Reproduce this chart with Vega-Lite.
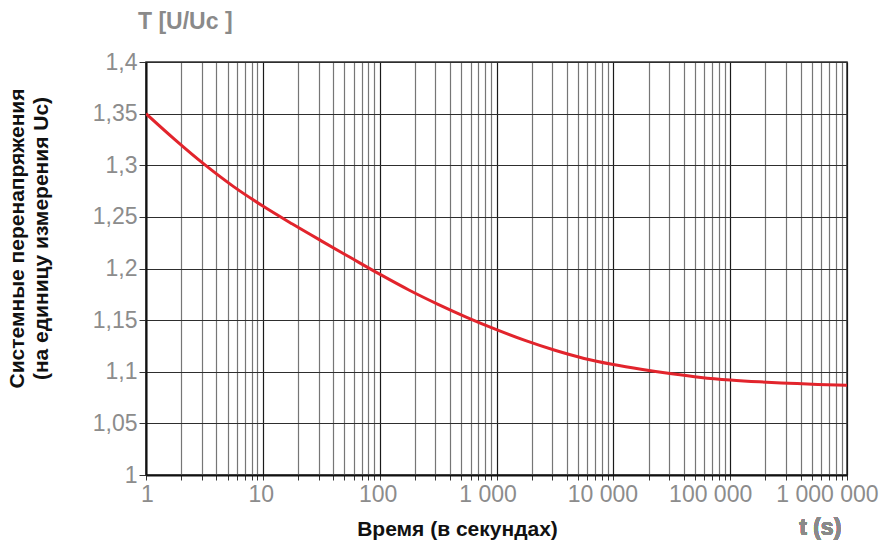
{
  "$schema": "https://vega.github.io/schema/vega-lite/v6.json",
  "width": 701,
  "height": 413,
  "autosize": "none",
  "padding": {"left": 146, "top": 62, "right": 36, "bottom": 66},
  "background": "white",
  "config": {
    "view": {"stroke": "#333333", "strokeWidth": 1.5},
    "font": "Liberation Sans"
  },
  "title": {
    "text": "T [U/Uc ]",
    "anchor": "start",
    "frame": "group",
    "orient": "top",
    "baseline": "alphabetic",
    "offset": 29,
    "dx": -8,
    "dy": 30,
    "font": "Liberation Sans",
    "fontSize": 23,
    "fontWeight": "bold",
    "color": "#8a8a8a"
  },
  "data": {
    "values": [
      {"t": 1, "v": 1.35},
      {"t": 1.778, "v": 1.3246},
      {"t": 3.162, "v": 1.3008},
      {"t": 5.623, "v": 1.2793},
      {"t": 10, "v": 1.2605},
      {"t": 17.78, "v": 1.2433},
      {"t": 31.62, "v": 1.2268},
      {"t": 56.23, "v": 1.2106},
      {"t": 100, "v": 1.1945},
      {"t": 177.8, "v": 1.1792},
      {"t": 316.2, "v": 1.1653},
      {"t": 562.3, "v": 1.1525},
      {"t": 1000, "v": 1.1408},
      {"t": 1778, "v": 1.1301},
      {"t": 3162, "v": 1.1208},
      {"t": 5623, "v": 1.1129},
      {"t": 10000, "v": 1.107},
      {"t": 17783, "v": 1.1022},
      {"t": 31623, "v": 1.098},
      {"t": 56234, "v": 1.0945},
      {"t": 100000, "v": 1.092},
      {"t": 177828, "v": 1.0902},
      {"t": 316228, "v": 1.0889},
      {"t": 562341, "v": 1.0877},
      {"t": 1000000, "v": 1.0869}
    ]
  },
  "layer": [
    {
      "mark": {"type": "line", "color": "#e2242c", "strokeWidth": 3, "interpolate": "monotone", "clip": true},
      "encoding": {
        "x": {
          "field": "t",
          "type": "quantitative",
          "scale": {"type": "log", "domain": [1, 1000000], "nice": false},
          "axis": {
            "title": "Время (в секундах)",
            "titleFont": "Liberation Sans",
            "titleFontSize": 21,
            "titleFontWeight": "bold",
            "titleColor": "#111111",
            "titleX": 311,
            "titleY": 60,
            "titleAnchor": null,
            "titleAlign": "center",
            "titleBaseline": "alphabetic",
            "values": [1,2,3,4,5,6,7,8,9,10,20,30,40,50,60,70,80,90,100,200,300,400,500,600,700,800,900,1000,2000,3000,4000,5000,6000,7000,8000,9000,10000,20000,30000,40000,50000,60000,70000,80000,90000,100000,200000,300000,400000,500000,600000,700000,800000,900000,1000000],
            "labelExpr": "datum.value==1?'1':datum.value==10?'10':datum.value==100?'100':datum.value==1000?'1 000':datum.value==10000?'10 000':datum.value==100000?'100 000':datum.value==1000000?'1 000 000':''",
            "labelFlush": false,
            "labelOverlap": false,
            "labelFont": "Liberation Sans",
            "labelFontSize": 23,
            "labelColor": "#8c8c8c",
            "labelPadding": 3,
            "labelOffset": {"expr": "datum.value>=100000?-20:datum.value>=10000?-11:datum.value>=1000?-9:datum.value>=10?-2:1"},
            "tickSize": 5,
            "tickColor": "#333333",
            "tickWidth": 1,
            "domainColor": "#111111",
            "domainWidth": 2,
            "grid": true,
            "gridColor": {"condition": {"test": "datum.value==1||datum.value==10||datum.value==100||datum.value==1000||datum.value==10000||datum.value==100000||datum.value==1000000", "value": "#1a1a1a"}, "value": "#767676"},
            "gridWidth": 1.2,
            "gridOpacity": 1
          }
        },
        "y": {
          "field": "v",
          "type": "quantitative",
          "scale": {"domain": [1, 1.4], "nice": false, "zero": false},
          "axis": {
            "title": ["Системные перенапряжения", "(на единицу измерения Uc)"],
            "titleFont": "Liberation Sans",
            "titleFontSize": 21,
            "titleFontWeight": "bold",
            "titleColor": "#111111",
            "titleLineHeight": 24,
            "titleAngle": -90,
            "titleX": -123,
            "titleY": 176,
            "titleAnchor": null,
            "titleAlign": "center",
            "titleBaseline": "alphabetic",
            "values": [1,1.025,1.05,1.075,1.1,1.125,1.15,1.175,1.2,1.225,1.25,1.275,1.3,1.325,1.35,1.375,1.4],
            "labelExpr": "abs(datum.value*20-round(datum.value*20))<0.01 ? replace(format(datum.value,'.2~f'),'.',',') : ''",
            "labelOverlap": false,
            "labelFlush": false,
            "labelFont": "Liberation Sans",
            "labelFontSize": 23,
            "labelColor": "#8c8c8c",
            "labelPadding": 2,
            "tickSize": 7,
            "tickColor": "#333333",
            "tickOpacity": {"condition": {"test": "abs(datum.value*20-round(datum.value*20))<0.01", "value": 1}, "value": 0},
            "domainColor": "#111111",
            "domainWidth": 2,
            "grid": true,
            "gridColor": "#2e2e2e",
            "gridWidth": 1.2,
            "gridOpacity": 1
          }
        }
      }
    },
    {
      "mark": {"type": "text", "font": "Liberation Sans", "fontSize": 23, "fontWeight": "bold", "color": "#8a8a8a", "align": "center", "baseline": "alphabetic"},
      "encoding": {
        "x": {"datum": 590000, "type": "quantitative"},
        "y": {"datum": 0.942, "type": "quantitative"},
        "text": {"value": "t (s)"}
      }
    }
  ]
}
